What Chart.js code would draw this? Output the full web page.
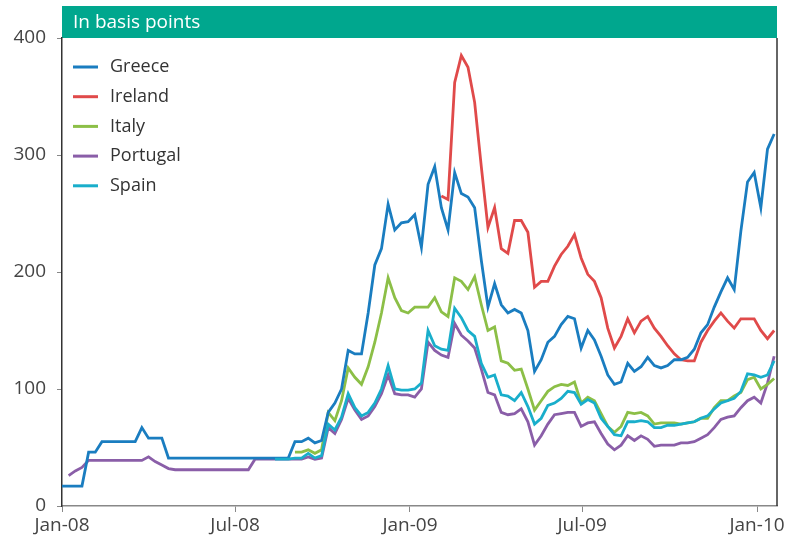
<!DOCTYPE html>
<html>
<head>
<meta charset="utf-8">
<script src="https://cdn.jsdelivr.net/npm/chart.js@4/dist/chart.umd.min.js"></script>
<style>
  html, body { margin: 0; padding: 0; background: #fff; }
  #wrap { width: 804px; height: 548px; }
</style>
</head>
<body>
<div id="wrap"><canvas id="spreadChart"></canvas></div>
<script>
// Spreads over German bunds, weekly readings, in basis points
var chartTitle = 'In basis points';

// x values: days since 1 Jan 2008, one point per week
var days = [];
for (var i = 0; i < 108; i++) days.push(i * 7);

var tickDays = [0, 182, 366, 547, 731];
var tickLabels = ['Jan-08', 'Jul-08', 'Jan-09', 'Jul-09', 'Jan-10'];

function pad(n, vals) {
  return new Array(n).fill(null).concat(vals);
}

var greece = [
  17, 17, 17, 17, 46, 46, 55, 55, 55, 55, 55, 55, 67, 58, 58, 58,
  41, 41, 41, 41, 41, 41, 41, 41, 41, 41, 41, 41, 41, 41, 41, 41, 41, 41, 41,
  55, 55, 58, 54, 56, 80, 88, 100, 133, 130, 130, 165, 206, 220, 258,
  236, 242, 243, 249, 221, 275, 290, 255, 236, 285, 267, 264, 255, 210,
  170, 190, 172, 165, 168, 165, 150, 115, 125, 140, 145, 155, 162, 160,
  135, 150, 142, 128, 112, 104, 106, 122, 115, 119, 127, 120, 118, 120,
  125, 125, 127, 134, 148, 155, 170, 183, 195, 185, 235, 277, 285, 255, 305, 318
];

var ireland = pad(57, [
  265, 262, 362, 385, 375, 345, 290, 238, 255, 220, 216, 244, 244, 234, 187,
  192, 192, 205, 215, 222, 232, 212, 198, 192, 178, 152, 135, 145, 160, 148,
  158, 162, 152, 145, 137, 130, 125, 124, 124, 140, 150, 158, 165, 158, 152,
  160, 160, 160, 150, 143, 150
]);

var italy = pad(35, [
  46, 46, 48, 45, 48, 80, 73, 90, 118, 110, 104, 119, 140, 165, 195, 178,
  167, 165, 170, 170, 170, 178, 166, 162, 195, 192, 185, 196, 172, 150,
  153, 124, 122, 116, 117, 100, 82, 90, 98, 102, 104, 103, 106, 88, 93,
  90, 79, 68, 63, 68, 80, 79, 80, 77, 70, 71, 71, 71, 70, 71, 72, 75, 75,
  84, 90, 90, 94, 97, 108, 110, 100, 104, 109
]);

var portugal = pad(1, [
  26, 30, 33, 39, 39, 39, 39, 39, 39, 39, 39, 39, 42, 38, 35, 32,
  31, 31, 31, 31, 31, 31, 31, 31, 31, 31, 31, 31,
  40, 40, 40, 40, 40, 40, 40, 40, 42, 40, 41,
  67, 62, 74, 92, 82, 74, 77, 85, 96, 112, 96, 95, 95, 93, 100, 140, 133,
  129, 127, 156, 146, 141, 135, 117, 97, 95, 80, 78, 79, 83, 72, 52, 60,
  70, 78, 79, 80, 80, 68, 71, 72, 62, 53, 48, 52, 60, 56, 60, 57, 51, 52,
  52, 52, 54, 54, 55, 58, 61, 67, 74, 76, 77, 84, 90, 93, 88, 105, 128
]);

var spain = pad(32, [
  40, 40, 40, 41, 41, 45, 41, 43, 70, 65, 76, 96, 84, 77, 80, 88, 100, 120,
  100, 99, 99, 100, 105, 150, 137, 134, 133, 169, 161, 150, 145, 122, 110,
  112, 95, 94, 90, 97, 85, 70, 75, 86, 88, 92, 98, 97, 87, 91, 88, 75, 68,
  61, 60, 72, 72, 73, 72, 67, 67, 69, 69, 70, 71, 72, 75, 77, 83, 88, 90,
  92, 98, 113, 112, 110, 112, 124
]);

var countries = ['Greece', 'Ireland', 'Italy', 'Portugal', 'Spain'];
var colors = ['#1a7dc0', '#e04a4a', '#8cbf47', '#8a5ea8', '#19aecb'];
var series = [greece, ireland, italy, portugal, spain];

function toPoints(vals) {
  return vals.map(function (v, i) { return { x: days[i], y: v }; });
}

var datasets = countries.map(function (name, k) {
  return {
    label: name,
    data: toPoints(series[k]),
    borderColor: colors[k],
    backgroundColor: colors[k],
    borderWidth: 2.8,
    pointRadius: 0,
    tension: 0,
    fill: false,
    order: name === 'Spain' ? 0 : 1
  };
});

// green header bar, legend inside the plot, right-hand frame line
var frame = {
  id: 'frame',
  beforeDraw: function (chart) {
    var ctx = chart.ctx, a = chart.chartArea;
    ctx.save();
    ctx.fillStyle = '#00a78e';
    ctx.fillRect(a.left, 6, a.right - a.left, a.top - 6);
    ctx.fillStyle = '#ffffff';
    ctx.font = '19px "Open Sans", sans-serif';
    ctx.textBaseline = 'middle';
    ctx.fillText(chartTitle, a.left + 11, (6 + a.top) / 2 + 1);
    ctx.restore();
  },
  afterDraw: function (chart) {
    var ctx = chart.ctx, a = chart.chartArea;
    ctx.save();
    ctx.strokeStyle = '#333';
    ctx.lineWidth = 1.5;
    ctx.beginPath();
    ctx.moveTo(a.right, a.top);
    ctx.lineTo(a.right, a.bottom);
    ctx.stroke();

    ctx.font = '18px "Open Sans", sans-serif';
    ctx.textBaseline = 'middle';
    chart.data.datasets.forEach(function (ds, k) {
      var y = a.top + 29 + k * 29.7;
      ctx.fillStyle = ds.borderColor;
      ctx.fillRect(a.left + 11, y - 1.5, 25, 3);
      ctx.fillStyle = '#333';
      ctx.fillText(ds.label, a.left + 48, y);
    });
    ctx.restore();
  }
};

Chart.defaults.font.family = '"Open Sans", sans-serif';

var ctx = document.getElementById('spreadChart').getContext('2d');
var spreadChart = new Chart(ctx, {
  type: 'line',
  data: { datasets: datasets },
  plugins: [frame],
  options: {
    responsive: true,
    maintainAspectRatio: false,
    animation: false,
    devicePixelRatio: 1,
    layout: { padding: { left: 0, right: 27, top: 38, bottom: 0 } },
    plugins: {
      tooltip: { enabled: false },
      legend: { display: false }
    },
    scales: {
      x: {
        type: 'linear',
        min: 0,
        max: 752,
        afterBuildTicks: function (s) {
          s.ticks = tickDays.map(function (v) { return { value: v }; });
        },
        afterFit: function (s) { s.height = 42; },
        ticks: {
          autoSkip: false,
          maxRotation: 0,
          padding: 2,
          color: '#444',
          font: { size: 19 },
          callback: function (v) { return tickLabels[tickDays.indexOf(v)]; }
        },
        grid: { drawOnChartArea: false, tickLength: 6, color: '#888' },
        border: { color: '#888', width: 1.5 }
      },
      y: {
        min: 0,
        max: 400,
        afterFit: function (s) { s.width = 62; },
        ticks: { stepSize: 100, padding: 11, color: '#444', font: { size: 19 } },
        grid: { drawOnChartArea: false, tickLength: 5, color: '#888' },
        border: { color: '#333', width: 1.5 }
      }
    }
  }
});
</script>
</body>
</html>
